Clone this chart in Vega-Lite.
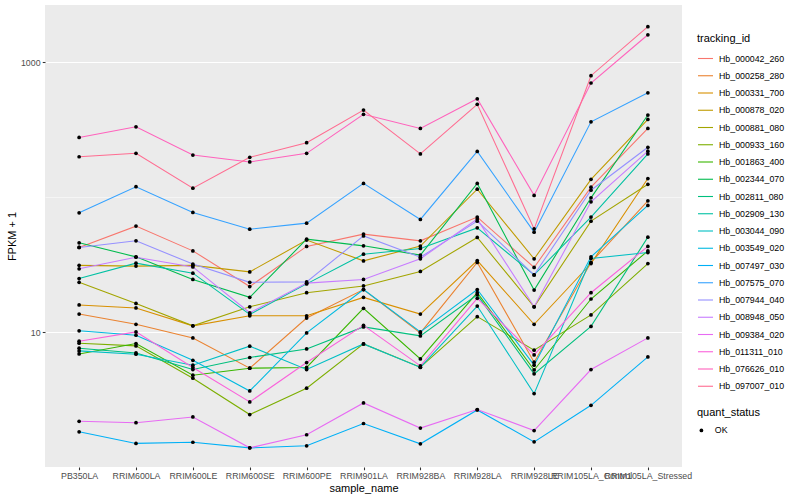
{
  "$schema": "https://vega.github.io/schema/vega-lite/v6.json",
  "width": 637,
  "height": 462,
  "autosize": {"type": "none"},
  "padding": {"left": 45, "top": 5, "right": 118, "bottom": 33},
  "background": "white",
  "config": {
    "view": {"fill": "#EBEBEB", "stroke": null},
    "font": "Liberation Sans",
    "axis": {
      "domain": false,
      "labelFont": "Liberation Sans",
      "labelFontSize": 8.8,
      "labelColor": "#4D4D4D",
      "tickColor": "#333333",
      "tickSize": 2.75,
      "tickWidth": 1.07,
      "gridColor": "white",
      "gridWidth": 1.07,
      "titleFont": "Liberation Sans",
      "titleFontSize": 11,
      "titleFontWeight": "normal",
      "titleColor": "black",
      "labelPadding": 2.2
    },
    "legend": {
      "titleFont": "Liberation Sans",
      "titleFontSize": 11,
      "titleFontWeight": "normal",
      "titleColor": "black",
      "labelFont": "Liberation Sans",
      "labelFontSize": 8.8,
      "labelColor": "black",
      "padding": 0
    }
  },
  "data": {
    "values": [
      {"sample_name":"PB350LA","tracking_id":"Hb_000042_260","FPKM_plus_1":42.6,"quant_status":"OK"},
      {"sample_name":"RRIM600LA","tracking_id":"Hb_000042_260","FPKM_plus_1":61.3,"quant_status":"OK"},
      {"sample_name":"RRIM600LE","tracking_id":"Hb_000042_260","FPKM_plus_1":40.2,"quant_status":"OK"},
      {"sample_name":"RRIM600SE","tracking_id":"Hb_000042_260","FPKM_plus_1":21.9,"quant_status":"OK"},
      {"sample_name":"RRIM600PE","tracking_id":"Hb_000042_260","FPKM_plus_1":43.4,"quant_status":"OK"},
      {"sample_name":"RRIM901LA","tracking_id":"Hb_000042_260","FPKM_plus_1":53.5,"quant_status":"OK"},
      {"sample_name":"RRIM928BA","tracking_id":"Hb_000042_260","FPKM_plus_1":47.7,"quant_status":"OK"},
      {"sample_name":"RRIM928LA","tracking_id":"Hb_000042_260","FPKM_plus_1":71.5,"quant_status":"OK"},
      {"sample_name":"RRIM928LE","tracking_id":"Hb_000042_260","FPKM_plus_1":30.3,"quant_status":"OK"},
      {"sample_name":"RRIM105LA_Control","tracking_id":"Hb_000042_260","FPKM_plus_1":119,"quant_status":"OK"},
      {"sample_name":"RRIM105LA_Stressed","tracking_id":"Hb_000042_260","FPKM_plus_1":324,"quant_status":"OK"},

      {"sample_name":"PB350LA","tracking_id":"Hb_000258_280","FPKM_plus_1":13.7,"quant_status":"OK"},
      {"sample_name":"RRIM600LA","tracking_id":"Hb_000258_280","FPKM_plus_1":11.5,"quant_status":"OK"},
      {"sample_name":"RRIM600LE","tracking_id":"Hb_000258_280","FPKM_plus_1":9.12,"quant_status":"OK"},
      {"sample_name":"RRIM600SE","tracking_id":"Hb_000258_280","FPKM_plus_1":5.44,"quant_status":"OK"},
      {"sample_name":"RRIM600PE","tracking_id":"Hb_000258_280","FPKM_plus_1":12.8,"quant_status":"OK"},
      {"sample_name":"RRIM901LA","tracking_id":"Hb_000258_280","FPKM_plus_1":20.8,"quant_status":"OK"},
      {"sample_name":"RRIM928BA","tracking_id":"Hb_000258_280","FPKM_plus_1":9.93,"quant_status":"OK"},
      {"sample_name":"RRIM928LA","tracking_id":"Hb_000258_280","FPKM_plus_1":33.0,"quant_status":"OK"},
      {"sample_name":"RRIM928LE","tracking_id":"Hb_000258_280","FPKM_plus_1":6.03,"quant_status":"OK"},
      {"sample_name":"RRIM105LA_Control","tracking_id":"Hb_000258_280","FPKM_plus_1":33.0,"quant_status":"OK"},
      {"sample_name":"RRIM105LA_Stressed","tracking_id":"Hb_000258_280","FPKM_plus_1":94.4,"quant_status":"OK"},

      {"sample_name":"PB350LA","tracking_id":"Hb_000331_700","FPKM_plus_1":16.0,"quant_status":"OK"},
      {"sample_name":"RRIM600LA","tracking_id":"Hb_000331_700","FPKM_plus_1":15.2,"quant_status":"OK"},
      {"sample_name":"RRIM600LE","tracking_id":"Hb_000331_700","FPKM_plus_1":11.2,"quant_status":"OK"},
      {"sample_name":"RRIM600SE","tracking_id":"Hb_000331_700","FPKM_plus_1":13.3,"quant_status":"OK"},
      {"sample_name":"RRIM600PE","tracking_id":"Hb_000331_700","FPKM_plus_1":13.3,"quant_status":"OK"},
      {"sample_name":"RRIM901LA","tracking_id":"Hb_000331_700","FPKM_plus_1":18.2,"quant_status":"OK"},
      {"sample_name":"RRIM928BA","tracking_id":"Hb_000331_700","FPKM_plus_1":13.7,"quant_status":"OK"},
      {"sample_name":"RRIM928LA","tracking_id":"Hb_000331_700","FPKM_plus_1":34.1,"quant_status":"OK"},
      {"sample_name":"RRIM928LE","tracking_id":"Hb_000331_700","FPKM_plus_1":11.5,"quant_status":"OK"},
      {"sample_name":"RRIM105LA_Control","tracking_id":"Hb_000331_700","FPKM_plus_1":32.4,"quant_status":"OK"},
      {"sample_name":"RRIM105LA_Stressed","tracking_id":"Hb_000331_700","FPKM_plus_1":138,"quant_status":"OK"},

      {"sample_name":"PB350LA","tracking_id":"Hb_000878_020","FPKM_plus_1":31.4,"quant_status":"OK"},
      {"sample_name":"RRIM600LA","tracking_id":"Hb_000878_020","FPKM_plus_1":31.0,"quant_status":"OK"},
      {"sample_name":"RRIM600LE","tracking_id":"Hb_000878_020","FPKM_plus_1":31.4,"quant_status":"OK"},
      {"sample_name":"RRIM600SE","tracking_id":"Hb_000878_020","FPKM_plus_1":28.1,"quant_status":"OK"},
      {"sample_name":"RRIM600PE","tracking_id":"Hb_000878_020","FPKM_plus_1":48.3,"quant_status":"OK"},
      {"sample_name":"RRIM901LA","tracking_id":"Hb_000878_020","FPKM_plus_1":33.9,"quant_status":"OK"},
      {"sample_name":"RRIM928BA","tracking_id":"Hb_000878_020","FPKM_plus_1":43.6,"quant_status":"OK"},
      {"sample_name":"RRIM928LA","tracking_id":"Hb_000878_020","FPKM_plus_1":115,"quant_status":"OK"},
      {"sample_name":"RRIM928LE","tracking_id":"Hb_000878_020","FPKM_plus_1":35.1,"quant_status":"OK"},
      {"sample_name":"RRIM105LA_Control","tracking_id":"Hb_000878_020","FPKM_plus_1":136,"quant_status":"OK"},
      {"sample_name":"RRIM105LA_Stressed","tracking_id":"Hb_000878_020","FPKM_plus_1":378,"quant_status":"OK"},

      {"sample_name":"PB350LA","tracking_id":"Hb_000881_080","FPKM_plus_1":23.5,"quant_status":"OK"},
      {"sample_name":"RRIM600LA","tracking_id":"Hb_000881_080","FPKM_plus_1":16.4,"quant_status":"OK"},
      {"sample_name":"RRIM600LE","tracking_id":"Hb_000881_080","FPKM_plus_1":11.2,"quant_status":"OK"},
      {"sample_name":"RRIM600SE","tracking_id":"Hb_000881_080","FPKM_plus_1":15.5,"quant_status":"OK"},
      {"sample_name":"RRIM600PE","tracking_id":"Hb_000881_080","FPKM_plus_1":19.7,"quant_status":"OK"},
      {"sample_name":"RRIM901LA","tracking_id":"Hb_000881_080","FPKM_plus_1":22.1,"quant_status":"OK"},
      {"sample_name":"RRIM928BA","tracking_id":"Hb_000881_080","FPKM_plus_1":28.3,"quant_status":"OK"},
      {"sample_name":"RRIM928LA","tracking_id":"Hb_000881_080","FPKM_plus_1":50.5,"quant_status":"OK"},
      {"sample_name":"RRIM928LE","tracking_id":"Hb_000881_080","FPKM_plus_1":15.5,"quant_status":"OK"},
      {"sample_name":"RRIM105LA_Control","tracking_id":"Hb_000881_080","FPKM_plus_1":66.7,"quant_status":"OK"},
      {"sample_name":"RRIM105LA_Stressed","tracking_id":"Hb_000881_080","FPKM_plus_1":125,"quant_status":"OK"},

      {"sample_name":"PB350LA","tracking_id":"Hb_000933_160","FPKM_plus_1":8.33,"quant_status":"OK"},
      {"sample_name":"RRIM600LA","tracking_id":"Hb_000933_160","FPKM_plus_1":7.96,"quant_status":"OK"},
      {"sample_name":"RRIM600LE","tracking_id":"Hb_000933_160","FPKM_plus_1":4.59,"quant_status":"OK"},
      {"sample_name":"RRIM600SE","tracking_id":"Hb_000933_160","FPKM_plus_1":2.47,"quant_status":"OK"},
      {"sample_name":"RRIM600PE","tracking_id":"Hb_000933_160","FPKM_plus_1":3.87,"quant_status":"OK"},
      {"sample_name":"RRIM901LA","tracking_id":"Hb_000933_160","FPKM_plus_1":8.23,"quant_status":"OK"},
      {"sample_name":"RRIM928BA","tracking_id":"Hb_000933_160","FPKM_plus_1":5.53,"quant_status":"OK"},
      {"sample_name":"RRIM928LA","tracking_id":"Hb_000933_160","FPKM_plus_1":13.1,"quant_status":"OK"},
      {"sample_name":"RRIM928LE","tracking_id":"Hb_000933_160","FPKM_plus_1":7.39,"quant_status":"OK"},
      {"sample_name":"RRIM105LA_Control","tracking_id":"Hb_000933_160","FPKM_plus_1":13.5,"quant_status":"OK"},
      {"sample_name":"RRIM105LA_Stressed","tracking_id":"Hb_000933_160","FPKM_plus_1":32.4,"quant_status":"OK"},

      {"sample_name":"PB350LA","tracking_id":"Hb_001863_400","FPKM_plus_1":6.94,"quant_status":"OK"},
      {"sample_name":"RRIM600LA","tracking_id":"Hb_001863_400","FPKM_plus_1":8.29,"quant_status":"OK"},
      {"sample_name":"RRIM600LE","tracking_id":"Hb_001863_400","FPKM_plus_1":4.83,"quant_status":"OK"},
      {"sample_name":"RRIM600SE","tracking_id":"Hb_001863_400","FPKM_plus_1":5.44,"quant_status":"OK"},
      {"sample_name":"RRIM600PE","tracking_id":"Hb_001863_400","FPKM_plus_1":5.51,"quant_status":"OK"},
      {"sample_name":"RRIM901LA","tracking_id":"Hb_001863_400","FPKM_plus_1":15.1,"quant_status":"OK"},
      {"sample_name":"RRIM928BA","tracking_id":"Hb_001863_400","FPKM_plus_1":6.37,"quant_status":"OK"},
      {"sample_name":"RRIM928LA","tracking_id":"Hb_001863_400","FPKM_plus_1":19.7,"quant_status":"OK"},
      {"sample_name":"RRIM928LE","tracking_id":"Hb_001863_400","FPKM_plus_1":5.28,"quant_status":"OK"},
      {"sample_name":"RRIM105LA_Control","tracking_id":"Hb_001863_400","FPKM_plus_1":17.7,"quant_status":"OK"},
      {"sample_name":"RRIM105LA_Stressed","tracking_id":"Hb_001863_400","FPKM_plus_1":40.2,"quant_status":"OK"},

      {"sample_name":"PB350LA","tracking_id":"Hb_002344_070","FPKM_plus_1":46.1,"quant_status":"OK"},
      {"sample_name":"RRIM600LA","tracking_id":"Hb_002344_070","FPKM_plus_1":36.3,"quant_status":"OK"},
      {"sample_name":"RRIM600LE","tracking_id":"Hb_002344_070","FPKM_plus_1":24.7,"quant_status":"OK"},
      {"sample_name":"RRIM600SE","tracking_id":"Hb_002344_070","FPKM_plus_1":18.2,"quant_status":"OK"},
      {"sample_name":"RRIM600PE","tracking_id":"Hb_002344_070","FPKM_plus_1":49.1,"quant_status":"OK"},
      {"sample_name":"RRIM901LA","tracking_id":"Hb_002344_070","FPKM_plus_1":43.8,"quant_status":"OK"},
      {"sample_name":"RRIM928BA","tracking_id":"Hb_002344_070","FPKM_plus_1":37.4,"quant_status":"OK"},
      {"sample_name":"RRIM928LA","tracking_id":"Hb_002344_070","FPKM_plus_1":127,"quant_status":"OK"},
      {"sample_name":"RRIM928LE","tracking_id":"Hb_002344_070","FPKM_plus_1":20.6,"quant_status":"OK"},
      {"sample_name":"RRIM105LA_Control","tracking_id":"Hb_002344_070","FPKM_plus_1":99.3,"quant_status":"OK"},
      {"sample_name":"RRIM105LA_Stressed","tracking_id":"Hb_002344_070","FPKM_plus_1":407,"quant_status":"OK"},

      {"sample_name":"PB350LA","tracking_id":"Hb_002811_080","FPKM_plus_1":7.65,"quant_status":"OK"},
      {"sample_name":"RRIM600LA","tracking_id":"Hb_002811_080","FPKM_plus_1":7.06,"quant_status":"OK"},
      {"sample_name":"RRIM600LE","tracking_id":"Hb_002811_080","FPKM_plus_1":5.32,"quant_status":"OK"},
      {"sample_name":"RRIM600SE","tracking_id":"Hb_002811_080","FPKM_plus_1":6.53,"quant_status":"OK"},
      {"sample_name":"RRIM600PE","tracking_id":"Hb_002811_080","FPKM_plus_1":7.56,"quant_status":"OK"},
      {"sample_name":"RRIM901LA","tracking_id":"Hb_002811_080","FPKM_plus_1":11.0,"quant_status":"OK"},
      {"sample_name":"RRIM928BA","tracking_id":"Hb_002811_080","FPKM_plus_1":9.44,"quant_status":"OK"},
      {"sample_name":"RRIM928LA","tracking_id":"Hb_002811_080","FPKM_plus_1":19.0,"quant_status":"OK"},
      {"sample_name":"RRIM928LE","tracking_id":"Hb_002811_080","FPKM_plus_1":4.94,"quant_status":"OK"},
      {"sample_name":"RRIM105LA_Control","tracking_id":"Hb_002811_080","FPKM_plus_1":11.1,"quant_status":"OK"},
      {"sample_name":"RRIM105LA_Stressed","tracking_id":"Hb_002811_080","FPKM_plus_1":50.8,"quant_status":"OK"},

      {"sample_name":"PB350LA","tracking_id":"Hb_002909_130","FPKM_plus_1":25.1,"quant_status":"OK"},
      {"sample_name":"RRIM600LA","tracking_id":"Hb_002909_130","FPKM_plus_1":32.6,"quant_status":"OK"},
      {"sample_name":"RRIM600LE","tracking_id":"Hb_002909_130","FPKM_plus_1":27.5,"quant_status":"OK"},
      {"sample_name":"RRIM600SE","tracking_id":"Hb_002909_130","FPKM_plus_1":13.6,"quant_status":"OK"},
      {"sample_name":"RRIM600PE","tracking_id":"Hb_002909_130","FPKM_plus_1":22.9,"quant_status":"OK"},
      {"sample_name":"RRIM901LA","tracking_id":"Hb_002909_130","FPKM_plus_1":38.0,"quant_status":"OK"},
      {"sample_name":"RRIM928BA","tracking_id":"Hb_002909_130","FPKM_plus_1":41.9,"quant_status":"OK"},
      {"sample_name":"RRIM928LA","tracking_id":"Hb_002909_130","FPKM_plus_1":59.5,"quant_status":"OK"},
      {"sample_name":"RRIM928LE","tracking_id":"Hb_002909_130","FPKM_plus_1":26.7,"quant_status":"OK"},
      {"sample_name":"RRIM105LA_Control","tracking_id":"Hb_002909_130","FPKM_plus_1":71.5,"quant_status":"OK"},
      {"sample_name":"RRIM105LA_Stressed","tracking_id":"Hb_002909_130","FPKM_plus_1":210,"quant_status":"OK"},

      {"sample_name":"PB350LA","tracking_id":"Hb_003044_090","FPKM_plus_1":7.31,"quant_status":"OK"},
      {"sample_name":"RRIM600LA","tracking_id":"Hb_003044_090","FPKM_plus_1":6.91,"quant_status":"OK"},
      {"sample_name":"RRIM600LE","tracking_id":"Hb_003044_090","FPKM_plus_1":5.73,"quant_status":"OK"},
      {"sample_name":"RRIM600SE","tracking_id":"Hb_003044_090","FPKM_plus_1":7.92,"quant_status":"OK"},
      {"sample_name":"RRIM600PE","tracking_id":"Hb_003044_090","FPKM_plus_1":5.32,"quant_status":"OK"},
      {"sample_name":"RRIM901LA","tracking_id":"Hb_003044_090","FPKM_plus_1":8.23,"quant_status":"OK"},
      {"sample_name":"RRIM928BA","tracking_id":"Hb_003044_090","FPKM_plus_1":5.51,"quant_status":"OK"},
      {"sample_name":"RRIM928LA","tracking_id":"Hb_003044_090","FPKM_plus_1":15.7,"quant_status":"OK"},
      {"sample_name":"RRIM928LE","tracking_id":"Hb_003044_090","FPKM_plus_1":3.53,"quant_status":"OK"},
      {"sample_name":"RRIM105LA_Control","tracking_id":"Hb_003044_090","FPKM_plus_1":35.3,"quant_status":"OK"},
      {"sample_name":"RRIM105LA_Stressed","tracking_id":"Hb_003044_090","FPKM_plus_1":39.1,"quant_status":"OK"},

      {"sample_name":"PB350LA","tracking_id":"Hb_003549_020","FPKM_plus_1":10.3,"quant_status":"OK"},
      {"sample_name":"RRIM600LA","tracking_id":"Hb_003549_020","FPKM_plus_1":9.55,"quant_status":"OK"},
      {"sample_name":"RRIM600LE","tracking_id":"Hb_003549_020","FPKM_plus_1":6.23,"quant_status":"OK"},
      {"sample_name":"RRIM600SE","tracking_id":"Hb_003549_020","FPKM_plus_1":3.69,"quant_status":"OK"},
      {"sample_name":"RRIM600PE","tracking_id":"Hb_003549_020","FPKM_plus_1":9.93,"quant_status":"OK"},
      {"sample_name":"RRIM901LA","tracking_id":"Hb_003549_020","FPKM_plus_1":20.8,"quant_status":"OK"},
      {"sample_name":"RRIM928BA","tracking_id":"Hb_003549_020","FPKM_plus_1":10.1,"quant_status":"OK"},
      {"sample_name":"RRIM928LA","tracking_id":"Hb_003549_020","FPKM_plus_1":20.8,"quant_status":"OK"},
      {"sample_name":"RRIM928LE","tracking_id":"Hb_003549_020","FPKM_plus_1":5.73,"quant_status":"OK"},
      {"sample_name":"RRIM105LA_Control","tracking_id":"Hb_003549_020","FPKM_plus_1":36.3,"quant_status":"OK"},
      {"sample_name":"RRIM105LA_Stressed","tracking_id":"Hb_003549_020","FPKM_plus_1":87.3,"quant_status":"OK"},

      {"sample_name":"PB350LA","tracking_id":"Hb_007497_030","FPKM_plus_1":1.84,"quant_status":"OK"},
      {"sample_name":"RRIM600LA","tracking_id":"Hb_007497_030","FPKM_plus_1":1.51,"quant_status":"OK"},
      {"sample_name":"RRIM600LE","tracking_id":"Hb_007497_030","FPKM_plus_1":1.54,"quant_status":"OK"},
      {"sample_name":"RRIM600SE","tracking_id":"Hb_007497_030","FPKM_plus_1":1.40,"quant_status":"OK"},
      {"sample_name":"RRIM600PE","tracking_id":"Hb_007497_030","FPKM_plus_1":1.45,"quant_status":"OK"},
      {"sample_name":"RRIM901LA","tracking_id":"Hb_007497_030","FPKM_plus_1":2.12,"quant_status":"OK"},
      {"sample_name":"RRIM928BA","tracking_id":"Hb_007497_030","FPKM_plus_1":1.50,"quant_status":"OK"},
      {"sample_name":"RRIM928LA","tracking_id":"Hb_007497_030","FPKM_plus_1":2.67,"quant_status":"OK"},
      {"sample_name":"RRIM928LE","tracking_id":"Hb_007497_030","FPKM_plus_1":1.55,"quant_status":"OK"},
      {"sample_name":"RRIM105LA_Control","tracking_id":"Hb_007497_030","FPKM_plus_1":2.89,"quant_status":"OK"},
      {"sample_name":"RRIM105LA_Stressed","tracking_id":"Hb_007497_030","FPKM_plus_1":6.60,"quant_status":"OK"},

      {"sample_name":"PB350LA","tracking_id":"Hb_007575_070","FPKM_plus_1":76.9,"quant_status":"OK"},
      {"sample_name":"RRIM600LA","tracking_id":"Hb_007575_070","FPKM_plus_1":120,"quant_status":"OK"},
      {"sample_name":"RRIM600LE","tracking_id":"Hb_007575_070","FPKM_plus_1":77.4,"quant_status":"OK"},
      {"sample_name":"RRIM600SE","tracking_id":"Hb_007575_070","FPKM_plus_1":58.2,"quant_status":"OK"},
      {"sample_name":"RRIM600PE","tracking_id":"Hb_007575_070","FPKM_plus_1":64.5,"quant_status":"OK"},
      {"sample_name":"RRIM901LA","tracking_id":"Hb_007575_070","FPKM_plus_1":127,"quant_status":"OK"},
      {"sample_name":"RRIM928BA","tracking_id":"Hb_007575_070","FPKM_plus_1":68.7,"quant_status":"OK"},
      {"sample_name":"RRIM928LA","tracking_id":"Hb_007575_070","FPKM_plus_1":219,"quant_status":"OK"},
      {"sample_name":"RRIM928LE","tracking_id":"Hb_007575_070","FPKM_plus_1":55.3,"quant_status":"OK"},
      {"sample_name":"RRIM105LA_Control","tracking_id":"Hb_007575_070","FPKM_plus_1":363,"quant_status":"OK"},
      {"sample_name":"RRIM105LA_Stressed","tracking_id":"Hb_007575_070","FPKM_plus_1":595,"quant_status":"OK"},

      {"sample_name":"PB350LA","tracking_id":"Hb_007944_040","FPKM_plus_1":42.6,"quant_status":"OK"},
      {"sample_name":"RRIM600LA","tracking_id":"Hb_007944_040","FPKM_plus_1":47.7,"quant_status":"OK"},
      {"sample_name":"RRIM600LE","tracking_id":"Hb_007944_040","FPKM_plus_1":32.1,"quant_status":"OK"},
      {"sample_name":"RRIM600SE","tracking_id":"Hb_007944_040","FPKM_plus_1":23.5,"quant_status":"OK"},
      {"sample_name":"RRIM600PE","tracking_id":"Hb_007944_040","FPKM_plus_1":23.7,"quant_status":"OK"},
      {"sample_name":"RRIM901LA","tracking_id":"Hb_007944_040","FPKM_plus_1":51.9,"quant_status":"OK"},
      {"sample_name":"RRIM928BA","tracking_id":"Hb_007944_040","FPKM_plus_1":36.1,"quant_status":"OK"},
      {"sample_name":"RRIM928LA","tracking_id":"Hb_007944_040","FPKM_plus_1":66.7,"quant_status":"OK"},
      {"sample_name":"RRIM928LE","tracking_id":"Hb_007944_040","FPKM_plus_1":26.7,"quant_status":"OK"},
      {"sample_name":"RRIM105LA_Control","tracking_id":"Hb_007944_040","FPKM_plus_1":113,"quant_status":"OK"},
      {"sample_name":"RRIM105LA_Stressed","tracking_id":"Hb_007944_040","FPKM_plus_1":235,"quant_status":"OK"},

      {"sample_name":"PB350LA","tracking_id":"Hb_008948_050","FPKM_plus_1":29.6,"quant_status":"OK"},
      {"sample_name":"RRIM600LA","tracking_id":"Hb_008948_050","FPKM_plus_1":36.1,"quant_status":"OK"},
      {"sample_name":"RRIM600LE","tracking_id":"Hb_008948_050","FPKM_plus_1":30.6,"quant_status":"OK"},
      {"sample_name":"RRIM600SE","tracking_id":"Hb_008948_050","FPKM_plus_1":14.0,"quant_status":"OK"},
      {"sample_name":"RRIM600PE","tracking_id":"Hb_008948_050","FPKM_plus_1":23.2,"quant_status":"OK"},
      {"sample_name":"RRIM901LA","tracking_id":"Hb_008948_050","FPKM_plus_1":24.7,"quant_status":"OK"},
      {"sample_name":"RRIM928BA","tracking_id":"Hb_008948_050","FPKM_plus_1":35.1,"quant_status":"OK"},
      {"sample_name":"RRIM928LA","tracking_id":"Hb_008948_050","FPKM_plus_1":69.1,"quant_status":"OK"},
      {"sample_name":"RRIM928LE","tracking_id":"Hb_008948_050","FPKM_plus_1":15.5,"quant_status":"OK"},
      {"sample_name":"RRIM105LA_Control","tracking_id":"Hb_008948_050","FPKM_plus_1":92.8,"quant_status":"OK"},
      {"sample_name":"RRIM105LA_Stressed","tracking_id":"Hb_008948_050","FPKM_plus_1":220,"quant_status":"OK"},

      {"sample_name":"PB350LA","tracking_id":"Hb_009384_020","FPKM_plus_1":2.20,"quant_status":"OK"},
      {"sample_name":"RRIM600LA","tracking_id":"Hb_009384_020","FPKM_plus_1":2.15,"quant_status":"OK"},
      {"sample_name":"RRIM600LE","tracking_id":"Hb_009384_020","FPKM_plus_1":2.37,"quant_status":"OK"},
      {"sample_name":"RRIM600SE","tracking_id":"Hb_009384_020","FPKM_plus_1":1.40,"quant_status":"OK"},
      {"sample_name":"RRIM600PE","tracking_id":"Hb_009384_020","FPKM_plus_1":1.75,"quant_status":"OK"},
      {"sample_name":"RRIM901LA","tracking_id":"Hb_009384_020","FPKM_plus_1":3.01,"quant_status":"OK"},
      {"sample_name":"RRIM928BA","tracking_id":"Hb_009384_020","FPKM_plus_1":1.96,"quant_status":"OK"},
      {"sample_name":"RRIM928LA","tracking_id":"Hb_009384_020","FPKM_plus_1":2.69,"quant_status":"OK"},
      {"sample_name":"RRIM928LE","tracking_id":"Hb_009384_020","FPKM_plus_1":1.88,"quant_status":"OK"},
      {"sample_name":"RRIM105LA_Control","tracking_id":"Hb_009384_020","FPKM_plus_1":5.32,"quant_status":"OK"},
      {"sample_name":"RRIM105LA_Stressed","tracking_id":"Hb_009384_020","FPKM_plus_1":9.12,"quant_status":"OK"},

      {"sample_name":"PB350LA","tracking_id":"Hb_011311_010","FPKM_plus_1":8.62,"quant_status":"OK"},
      {"sample_name":"RRIM600LA","tracking_id":"Hb_011311_010","FPKM_plus_1":10.1,"quant_status":"OK"},
      {"sample_name":"RRIM600LE","tracking_id":"Hb_011311_010","FPKM_plus_1":5.51,"quant_status":"OK"},
      {"sample_name":"RRIM600SE","tracking_id":"Hb_011311_010","FPKM_plus_1":3.06,"quant_status":"OK"},
      {"sample_name":"RRIM600PE","tracking_id":"Hb_011311_010","FPKM_plus_1":5.99,"quant_status":"OK"},
      {"sample_name":"RRIM901LA","tracking_id":"Hb_011311_010","FPKM_plus_1":11.3,"quant_status":"OK"},
      {"sample_name":"RRIM928BA","tracking_id":"Hb_011311_010","FPKM_plus_1":5.66,"quant_status":"OK"},
      {"sample_name":"RRIM928LA","tracking_id":"Hb_011311_010","FPKM_plus_1":17.9,"quant_status":"OK"},
      {"sample_name":"RRIM928LE","tracking_id":"Hb_011311_010","FPKM_plus_1":6.82,"quant_status":"OK"},
      {"sample_name":"RRIM105LA_Control","tracking_id":"Hb_011311_010","FPKM_plus_1":19.7,"quant_status":"OK"},
      {"sample_name":"RRIM105LA_Stressed","tracking_id":"Hb_011311_010","FPKM_plus_1":43.4,"quant_status":"OK"},

      {"sample_name":"PB350LA","tracking_id":"Hb_076626_010","FPKM_plus_1":278,"quant_status":"OK"},
      {"sample_name":"RRIM600LA","tracking_id":"Hb_076626_010","FPKM_plus_1":333,"quant_status":"OK"},
      {"sample_name":"RRIM600LE","tracking_id":"Hb_076626_010","FPKM_plus_1":206,"quant_status":"OK"},
      {"sample_name":"RRIM600SE","tracking_id":"Hb_076626_010","FPKM_plus_1":183,"quant_status":"OK"},
      {"sample_name":"RRIM600PE","tracking_id":"Hb_076626_010","FPKM_plus_1":212,"quant_status":"OK"},
      {"sample_name":"RRIM901LA","tracking_id":"Hb_076626_010","FPKM_plus_1":412,"quant_status":"OK"},
      {"sample_name":"RRIM928BA","tracking_id":"Hb_076626_010","FPKM_plus_1":324,"quant_status":"OK"},
      {"sample_name":"RRIM928LA","tracking_id":"Hb_076626_010","FPKM_plus_1":537,"quant_status":"OK"},
      {"sample_name":"RRIM928LE","tracking_id":"Hb_076626_010","FPKM_plus_1":103.5,"quant_status":"OK"},
      {"sample_name":"RRIM105LA_Control","tracking_id":"Hb_076626_010","FPKM_plus_1":703,"quant_status":"OK"},
      {"sample_name":"RRIM105LA_Stressed","tracking_id":"Hb_076626_010","FPKM_plus_1":1600,"quant_status":"OK"},

      {"sample_name":"PB350LA","tracking_id":"Hb_097007_010","FPKM_plus_1":200,"quant_status":"OK"},
      {"sample_name":"RRIM600LA","tracking_id":"Hb_097007_010","FPKM_plus_1":212,"quant_status":"OK"},
      {"sample_name":"RRIM600LE","tracking_id":"Hb_097007_010","FPKM_plus_1":117,"quant_status":"OK"},
      {"sample_name":"RRIM600SE","tracking_id":"Hb_097007_010","FPKM_plus_1":198,"quant_status":"OK"},
      {"sample_name":"RRIM600PE","tracking_id":"Hb_097007_010","FPKM_plus_1":254,"quant_status":"OK"},
      {"sample_name":"RRIM901LA","tracking_id":"Hb_097007_010","FPKM_plus_1":443,"quant_status":"OK"},
      {"sample_name":"RRIM928BA","tracking_id":"Hb_097007_010","FPKM_plus_1":210,"quant_status":"OK"},
      {"sample_name":"RRIM928LA","tracking_id":"Hb_097007_010","FPKM_plus_1":489,"quant_status":"OK"},
      {"sample_name":"RRIM928LE","tracking_id":"Hb_097007_010","FPKM_plus_1":58.5,"quant_status":"OK"},
      {"sample_name":"RRIM105LA_Control","tracking_id":"Hb_097007_010","FPKM_plus_1":796,"quant_status":"OK"},
      {"sample_name":"RRIM105LA_Stressed","tracking_id":"Hb_097007_010","FPKM_plus_1":1835,"quant_status":"OK"}
    ]
  },
  "encoding": {
    "x": {
      "field": "sample_name",
      "type": "ordinal",
      "sort": ["PB350LA","RRIM600LA","RRIM600LE","RRIM600SE","RRIM600PE","RRIM901LA","RRIM928BA","RRIM928LA","RRIM928LE","RRIM105LA_Control","RRIM105LA_Stressed"],
      "scale": {"type": "point", "padding": 0.6},
      "axis": {"title": "sample_name", "labelAngle": 0, "labelOverlap": false, "labelBound": false, "titlePadding": 2}
    },
    "y": {
      "field": "FPKM_plus_1",
      "type": "quantitative",
      "scale": {"type": "log", "domain": [1.01, 2657], "nice": false},
      "axis": {
        "title": "FPKM + 1",
        "values": [10, 100, 1000],
        "labelExpr": "datum.value == 100 ? '' : format(datum.value, 'd')",
        "tickOpacity": {"condition": {"test": "datum.value == 100", "value": 0}, "value": 1},
        "gridWidth": {"condition": {"test": "datum.value == 100", "value": 0.53}, "value": 1.07},
        "titlePadding": 3
      }
    }
  },
  "layer": [
    {
      "mark": {"type": "line", "strokeWidth": 1.07},
      "encoding": {
        "color": {
          "field": "tracking_id",
          "type": "nominal",
          "scale": {
            "domain": ["Hb_000042_260","Hb_000258_280","Hb_000331_700","Hb_000878_020","Hb_000881_080","Hb_000933_160","Hb_001863_400","Hb_002344_070","Hb_002811_080","Hb_002909_130","Hb_003044_090","Hb_003549_020","Hb_007497_030","Hb_007575_070","Hb_007944_040","Hb_008948_050","Hb_009384_020","Hb_011311_010","Hb_076626_010","Hb_097007_010"],
            "range": ["#F8766D","#EA8331","#D89000","#C09B00","#A3A500","#7CAE00","#39B600","#00BB4E","#00BF7D","#00C1A3","#00BFC4","#00BAE0","#00B0F6","#35A2FF","#9590FF","#C77CFF","#E76BF3","#FA62DB","#FF62BC","#FF6C91"]
          },
          "legend": {
            "title": "tracking_id",
            "orient": "none",
            "legendX": 652,
            "legendY": 28,
            "symbolType": "stroke",
            "symbolSize": 225,
            "symbolStrokeWidth": 1.1,
            "rowPadding": 3.25,
            "labelOffset": 5,
            "titlePadding": 6
          }
        }
      }
    },
    {
      "mark": {"type": "point", "filled": true, "color": "black", "size": 14, "opacity": 1},
      "encoding": {
        "shape": {
          "field": "quant_status",
          "type": "nominal",
          "scale": {"range": ["circle"]},
          "legend": {
            "title": "quant_status",
            "orient": "none",
            "legendX": 652,
            "legendY": 402,
            "symbolSize": 14,
            "symbolFillColor": "black",
            "symbolStrokeColor": "black",
            "labelOffset": 9,
            "titlePadding": 8
          }
        }
      }
    }
  ]
}
